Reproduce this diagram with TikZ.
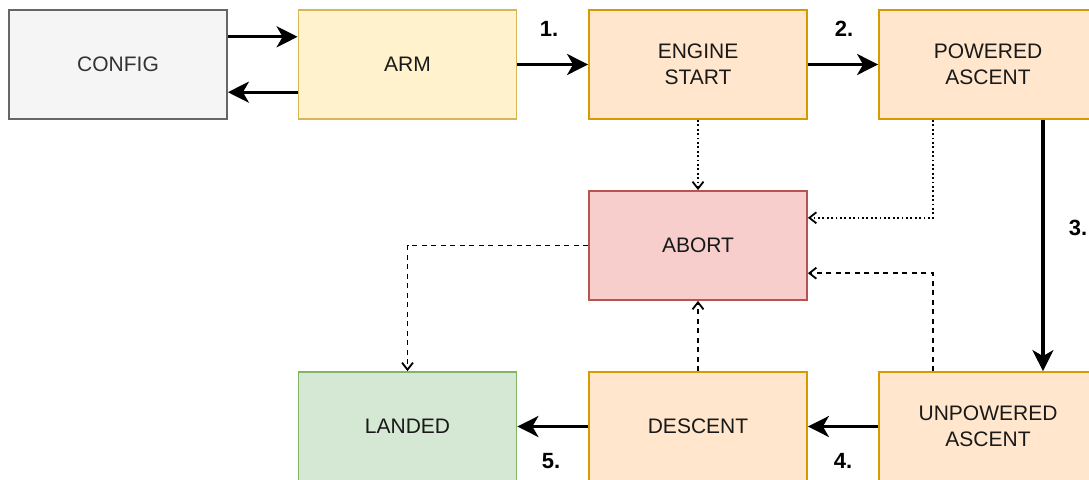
\documentclass[tikz,border=0pt]{standalone}
\usepackage{fontspec}
\setmainfont{Liberation Sans}
\usetikzlibrary{arrows.meta,calc}

\definecolor{cfgfill}{HTML}{F5F5F5}
\definecolor{cfgline}{HTML}{666666}
\definecolor{cfgtext}{HTML}{333333}
\definecolor{armfill}{HTML}{FFF2CC}
\definecolor{armline}{HTML}{D6B656}
\definecolor{stfill}{HTML}{FFE6CC}
\definecolor{stline}{HTML}{D79B00}
\definecolor{abfill}{HTML}{F8CECC}
\definecolor{abline}{HTML}{B85450}
\definecolor{ldfill}{HTML}{D5E8D4}
\definecolor{ldline}{HTML}{82B366}

\tikzset{
  state/.style={rectangle, draw, line width=1.8pt, minimum width=218pt,
    minimum height=109pt, inner sep=0pt, align=center,
    font=\fontsize{21}{25.5}\selectfont, text=black!90},
  cfgstate/.style={state, fill=cfgfill, draw=cfgline, text=cfgtext},
  armstate/.style={state, fill=armfill, draw=armline},
  flightstate/.style={state, fill=stfill, draw=stline},
  abortstate/.style={state, fill=abfill, draw=abline},
  landstate/.style={state, fill=ldfill, draw=ldline},
  flow/.style={line width=3.2pt, -{Stealth[length=21pt,width=21pt,inset=6pt]}},
  abortdot/.style={line width=1.8pt, dash pattern=on 1.8pt off 2.6pt,
    -{Straight Barb[length=7pt,width=11pt]}},
  abortdash/.style={line width=1.8pt, dash pattern=on 5pt off 4.5pt,
    -{Straight Barb[length=7pt,width=11pt]}},
  steplabel/.style={font=\bfseries\fontsize{22}{26}\selectfont, inner sep=0pt}
}

\begin{document}
\begin{tikzpicture}[x=1pt, y=-1pt]
  \fill[white] (0,0) rectangle (1089,479);
  \useasboundingbox (0,0) rectangle (1089,479);
  \clip (0,0) rectangle (1089,479);

  % states
  \node[cfgstate]    (config)  at (118,64.5)  {CONFIG};
  \node[armstate]    (arm)     at (407.5,64.5)  {ARM};
  \node[flightstate] (engine)  at (698,64.5)  {ENGINE\\START};
  \node[flightstate] (powered) at (988,64.5)  {POWERED\\ASCENT};
  \node[abortstate]  (abort)   at (698,245.5) {ABORT};
  \node[landstate]   (landed)  at (407.5,426.5) {LANDED};
  \node[flightstate] (descent) at (698,426.5) {DESCENT};
  \node[flightstate] (unpow)   at (988,426.5) {UNPOWERED\\ASCENT};

  % nominal sequence
  \draw[flow] ($(config.north east)!0.25!(config.south east)$)
           -- ($(arm.north west)!0.25!(arm.south west)$);
  \draw[flow] ($(arm.north west)!0.75!(arm.south west)$)
           -- ($(config.north east)!0.75!(config.south east)$);
  \draw[flow] (arm.east) -- (engine.west);
  \draw[flow] (engine.east) -- (powered.west);
  \draw[flow] ($(powered.south west)!0.75!(powered.south east)$)
           -- ($(unpow.north west)!0.75!(unpow.north east)$);
  \draw[flow] (unpow.west) -- (descent.east);
  \draw[flow] (descent.west) -- (landed.east);

  % abort paths
  \draw[abortdot] (engine.south) -- (abort.north);
  \draw[abortdot] ($(powered.south west)!0.25!(powered.south east)$)
               |- ($(abort.north east)!0.25!(abort.south east)$);
  \draw[abortdash] ($(unpow.north west)!0.25!(unpow.north east)$)
               |- ($(abort.north east)!0.75!(abort.south east)$);
  \draw[abortdash] (descent.north) -- (abort.south);
  \draw[abortdash] (abort.west) -| (landed.north);

  % step numbers
  \node[steplabel] (n1) at (549,28.5) {1.};
  \node[steplabel] (n2) at (844,28.5) {2.};
  \node[steplabel] (n3) at (1078,228) {3.};
  \node[steplabel] (n4) at (843,461) {4.};
  \node[steplabel] (n5) at (551,461) {5.};
\end{tikzpicture}
\end{document}
